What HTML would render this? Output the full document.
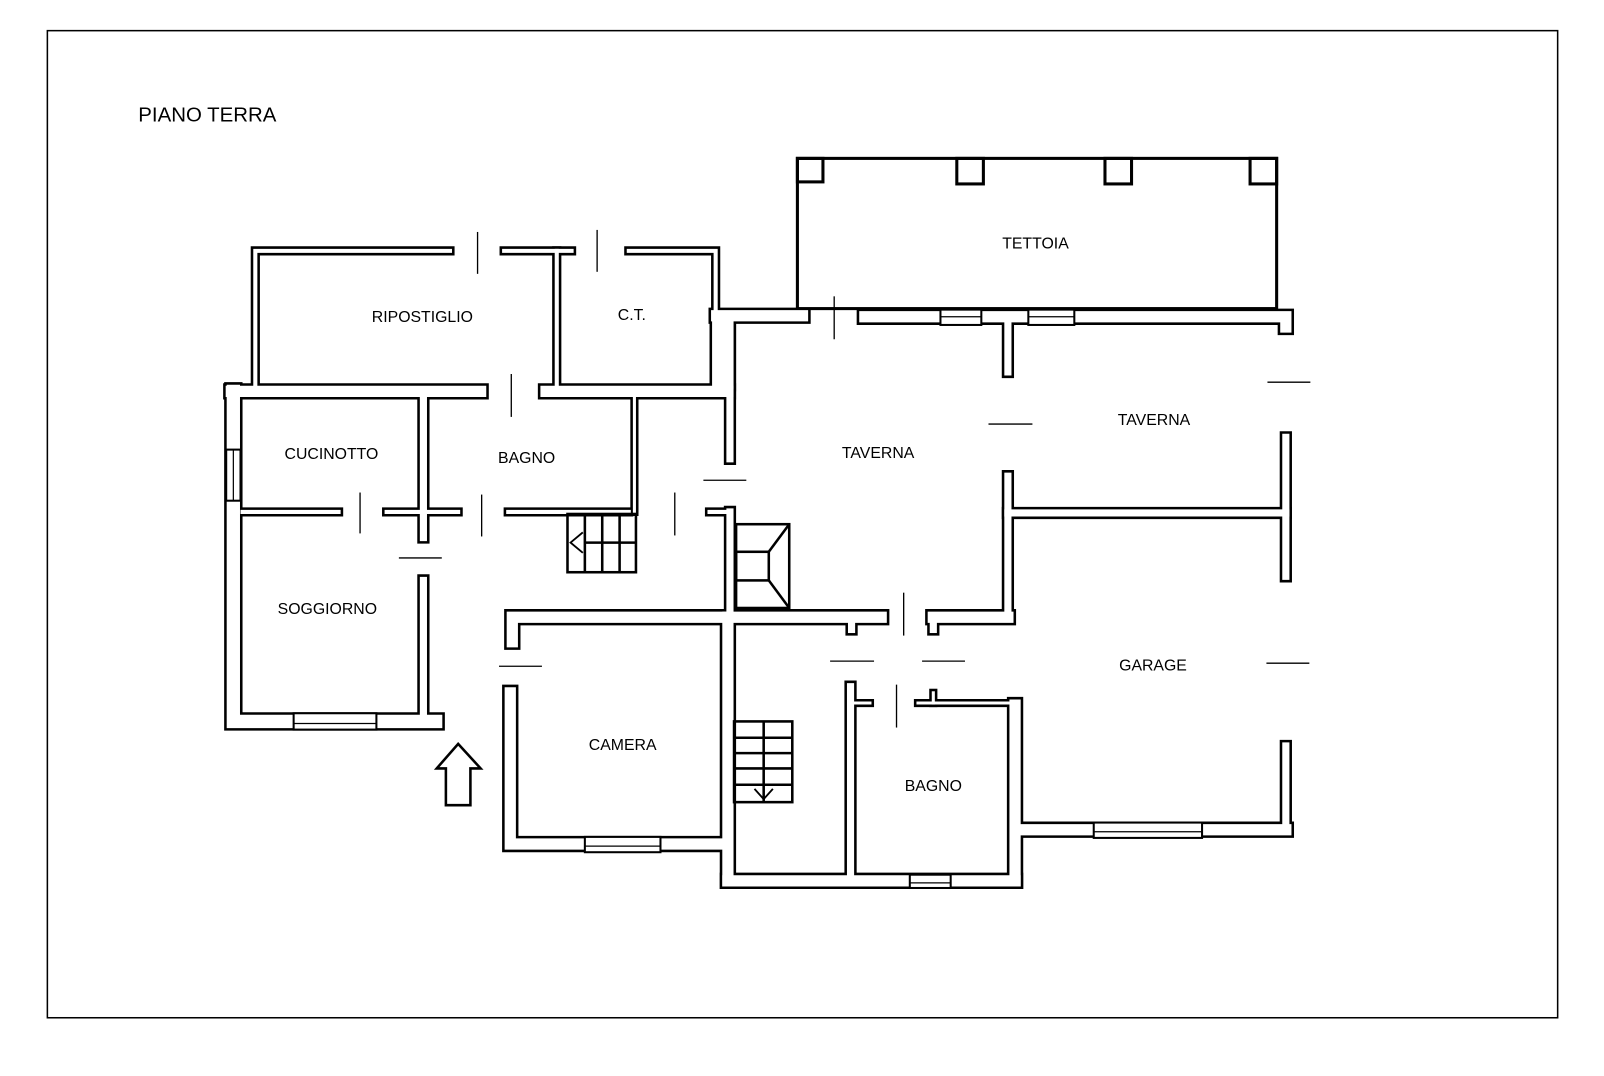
<!DOCTYPE html>
<html><head><meta charset="utf-8"><style>
html,body{margin:0;padding:0;background:#fff}
svg{display:block}
text{font-family:"Liberation Sans",sans-serif;font-size:15.5px;fill:#000}
</style></head><body>
<svg width="1604" height="1076" viewBox="0 0 1569 1053" xmlns="http://www.w3.org/2000/svg">
<defs>
<g id="t8" fill="none">
<path d="M620.5,383 V501"/>
<path d="M832,688 H851"/>
<path d="M898,688 H988"/>
<path d="M913,678 V688"/>
</g>
<g id="t9" fill="none">
<path d="M249.5,379 V245.5 H440"/>
<path d="M493,245.5 H559"/>
<path d="M544.5,245.5 V379"/>
<path d="M615,245.5 H700 V305"/>
<path d="M237,501 H331"/>
<path d="M378,501 H448"/>
<path d="M497,501 H615"/>
<path d="M694,501 H712"/>
</g>
<g id="t12" fill="none">
<path d="M714,318 V449"/>
<path d="M414,383 V526"/>
<path d="M414,568 V700"/>
<path d="M714,501 V600"/>
<path d="M833,604 V616"/>
<path d="M913,604 V616"/>
<path d="M986,604 V466"/>
<path d="M986,312 V364"/>
<path d="M832,672 V858"/>
<path d="M1258,428 V564"/>
<path d="M1258,730 V812"/>
<path d="M986,502 H1258"/>
</g>
<g id="t16" fill="none">
<path d="M226,383 H470"/>
<path d="M534,383 H712"/>
<path d="M701,309 H785"/>
<path d="M501,628 V604 H862"/>
<path d="M846,310 H1258 V320"/>
<path d="M913,604 H986"/>
<path d="M712,604 V862"/>
<path d="M712,862 H993"/>
<path d="M993,690 V862"/>
<path d="M1000,812 H1258"/>
<path d="M499,678 V826 H705"/>
</g>
<g id="t18" fill="none">
<path d="M228,383 V706 H426"/>
</g>
<g id="t26" fill="none">
<path d="M707,324 V370"/>
</g>
</defs>
<rect x="46" y="30" width="1478" height="966" fill="none" stroke="#000" stroke-width="1.5"/>
<text x="135" y="119" style="font-size:20px">PIANO TERRA</text>

<g fill="none" stroke="#000" stroke-width="3">
<rect x="780" y="155" width="469" height="147"/>
<rect x="780" y="155" width="25" height="23"/>
<rect x="936" y="155" width="26" height="25"/>
<rect x="1081" y="155" width="26" height="25"/>
<rect x="1223" y="155" width="26" height="25"/>
</g>

<g stroke-linecap="square" stroke-linejoin="miter">
<use href="#t8" stroke="#000" stroke-width="8"/>
<use href="#t9" stroke="#000" stroke-width="9"/>
<use href="#t12" stroke="#000" stroke-width="12"/>
<use href="#t16" stroke="#000" stroke-width="16"/>
<use href="#t18" stroke="#000" stroke-width="18"/>
<use href="#t26" stroke="#000" stroke-width="26"/>
<use href="#t8" stroke="#fff" stroke-width="3"/>
<use href="#t9" stroke="#fff" stroke-width="4"/>
<use href="#t12" stroke="#fff" stroke-width="7"/>
<use href="#t16" stroke="#fff" stroke-width="11"/>
<use href="#t18" stroke="#fff" stroke-width="13"/>
<use href="#t26" stroke="#fff" stroke-width="21"/>
</g>

<g fill="#fff" stroke="#000" stroke-width="2">
<rect x="287" y="698" width="81" height="16"/>
<rect x="221" y="440" width="14" height="50"/>
<rect x="572" y="819" width="74" height="15"/>
<rect x="890" y="856" width="40" height="13"/>
<rect x="1070" y="805" width="106" height="15"/>
<rect x="920" y="303" width="40" height="15"/>
<rect x="1006" y="303" width="45" height="15"/>
</g>
<g stroke="#000" stroke-width="1.2">
<line x1="287" y1="708" x2="368" y2="708"/>
<line x1="228" y1="440" x2="228" y2="490"/>
<line x1="572" y1="828" x2="646" y2="828"/>
<line x1="890" y1="864" x2="930" y2="864"/>
<line x1="1070" y1="814" x2="1176" y2="814"/>
<line x1="920" y1="310" x2="960" y2="310"/>
<line x1="1006" y1="310" x2="1051" y2="310"/>
</g>

<g stroke="#000" stroke-width="1.3">
<line x1="467" y1="227" x2="467" y2="268"/>
<line x1="584" y1="225" x2="584" y2="266"/>
<line x1="500" y1="366" x2="500" y2="408"/>
<line x1="352" y1="482" x2="352" y2="522"/>
<line x1="471" y1="484" x2="471" y2="525"/>
<line x1="390" y1="546" x2="432" y2="546"/>
<line x1="660" y1="482" x2="660" y2="524"/>
<line x1="688" y1="470" x2="730" y2="470"/>
<line x1="816" y1="290" x2="816" y2="332"/>
<line x1="967" y1="415" x2="1010" y2="415"/>
<line x1="1240" y1="374" x2="1282" y2="374"/>
<line x1="1239" y1="649" x2="1281" y2="649"/>
<line x1="884" y1="580" x2="884" y2="622"/>
<line x1="812" y1="647" x2="855" y2="647"/>
<line x1="902" y1="647" x2="944" y2="647"/>
<line x1="877" y1="670" x2="877" y2="712"/>
<line x1="488" y1="652" x2="530" y2="652"/>
</g>

<g fill="none" stroke="#000" stroke-width="2.5">
<rect x="555" y="503" width="67" height="57"/>
<line x1="572" y1="503" x2="572" y2="560"/>
<line x1="589" y1="503" x2="589" y2="560"/>
<line x1="606" y1="503" x2="606" y2="560"/>
<line x1="572" y1="531" x2="622" y2="531"/>
<path d="M570,521 L558,531 L570,541" stroke-width="1.8"/>
<rect x="720" y="513" width="52" height="82"/>
<rect x="720" y="540" width="32" height="28"/>
<line x1="752" y1="540" x2="772" y2="513"/>
<line x1="752" y1="568" x2="772" y2="595"/>
<rect x="718" y="706" width="57" height="79"/>
<line x1="747" y1="706" x2="747" y2="785"/>
<line x1="718" y1="722" x2="775" y2="722"/>
<line x1="718" y1="737" x2="775" y2="737"/>
<line x1="718" y1="752" x2="775" y2="752"/>
<line x1="718" y1="768" x2="775" y2="768"/>
<path d="M738,772 L747,782 L756,772" stroke-width="1.8"/>
</g>

<polygon points="448,728 470,752 460,752 460,788 436,788 436,752 427,752" fill="#fff" stroke="#000" stroke-width="2.5"/>

<g text-anchor="middle">
<text x="413" y="315">RIPOSTIGLIO</text>
<text x="618" y="313">C.T.</text>
<text x="324" y="449">CUCINOTTO</text>
<text x="515" y="453">BAGNO</text>
<text x="320" y="601">SOGGIORNO</text>
<text x="859" y="448">TAVERNA</text>
<text x="1013" y="243">TETTOIA</text>
<text x="1129" y="416">TAVERNA</text>
<text x="1128" y="656">GARAGE</text>
<text x="609" y="734">CAMERA</text>
<text x="913" y="774">BAGNO</text>
</g>
</svg>
</body></html>
